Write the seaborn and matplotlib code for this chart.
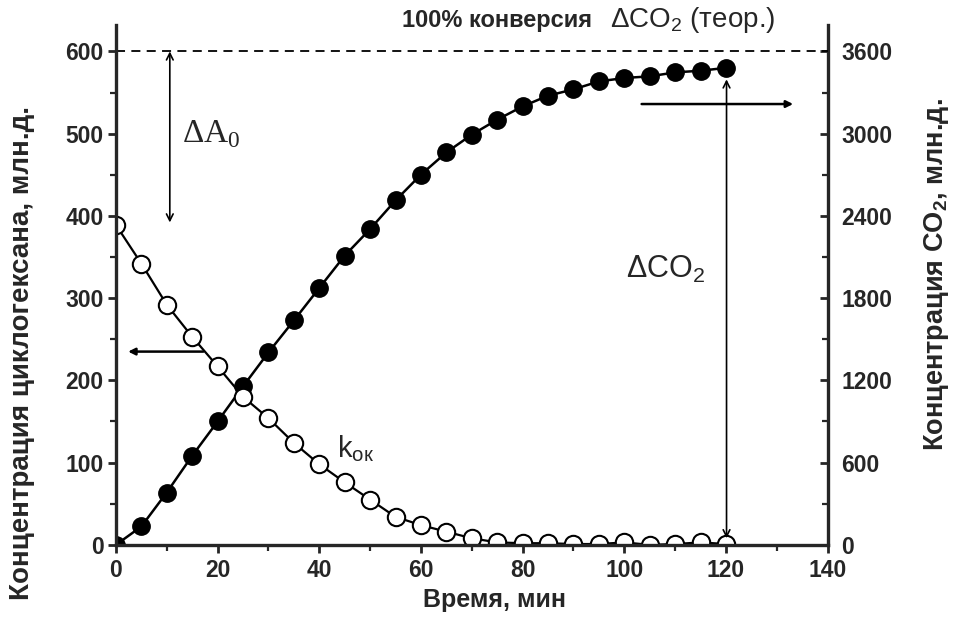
import matplotlib
matplotlib.use("Agg")
import pandas as pd
import matplotlib.pyplot as plt
import seaborn as sns
from matplotlib.ticker import MultipleLocator

# Time points, min
time_min = [0, 5, 10, 15, 20, 25, 30, 35, 40, 45, 50, 55, 60,
            65, 70, 75, 80, 85, 90, 95, 100, 105, 110, 115, 120]

# Cyclohexane concentration, ppm (left axis, open circles)
cyclohexane = [389, 342, 292, 253, 217, 180, 154, 124, 98, 76, 55, 34, 24,
               16, 8, 3, 2, 2, 1, 1, 3, 0, 1, 3, 1]

# CO2 concentration, ppm (right axis, filled circles)
co2 = [0, 134, 382, 650, 900, 1156, 1404, 1637, 1874, 2110, 2304, 2513, 2701,
       2863, 2993, 3102, 3199, 3277, 3323, 3381, 3406, 3418, 3447, 3459, 3480]

x_ticks = [0, 20, 40, 60, 80, 100, 120, 140]
left_ticks = [0, 100, 200, 300, 400, 500, 600]
right_ticks = [0, 600, 1200, 1800, 2400, 3000, 3600]

df = pd.DataFrame({"t": time_min, "c6h12": cyclohexane, "co2": co2})

sns.set_style("ticks")
plt.rcParams["font.family"] = ["Liberation Sans", "DejaVu Sans"]

fig = plt.figure(figsize=(9.58, 6.27), dpi=100)
ax = fig.add_axes([0.121, 0.131, 0.743, 0.829])
ax2 = ax.twinx()

# CO2 curve (right axis)
sns.lineplot(data=df, x="t", y="co2", ax=ax2, color="black", lw=1.8,
             marker="o", markersize=12.5, markerfacecolor="black",
             markeredgecolor="black", markeredgewidth=1.0)

# cyclohexane curve (left axis), drawn above
sns.lineplot(data=df, x="t", y="c6h12", ax=ax, color="black", lw=1.6,
             marker="o", markersize=12.5, markerfacecolor="white",
             markeredgecolor="black", markeredgewidth=1.5)
ax.set_zorder(ax2.get_zorder() + 1)
ax.patch.set_visible(False)

ax.set_xlim(0, 140)
ax.set_ylim(0, 632)
ax2.set_ylim(0, 632 * 6)
ax.set_xticks(x_ticks)
ax.set_yticks(left_ticks)
ax2.set_yticks(right_ticks)
ax.xaxis.set_minor_locator(MultipleLocator(10))
ax.yaxis.set_minor_locator(MultipleLocator(50))
ax2.yaxis.set_minor_locator(MultipleLocator(300))

for s in ["top", "right"]:
    ax.spines[s].set_visible(False)
for s in ["top", "left", "bottom"]:
    ax2.spines[s].set_visible(False)
ax.spines["left"].set_linewidth(2.4)
ax.spines["bottom"].set_linewidth(2.4)
ax2.spines["right"].set_linewidth(2.4)

ax.tick_params(axis="x", which="major", direction="out", length=6, width=2, pad=4)
ax.tick_params(axis="x", which="minor", direction="out", length=4, width=1.6)
ax.tick_params(axis="y", which="major", direction="out", length=6, width=2, pad=3)
ax.tick_params(axis="y", which="minor", direction="out", length=4, width=1.6)
ax2.tick_params(axis="y", which="major", direction="in", length=6, width=2, pad=10)
ax2.tick_params(axis="y", which="minor", direction="in", length=4, width=1.6)
for lbl in ax.get_xticklabels() + ax.get_yticklabels() + ax2.get_yticklabels():
    lbl.set_fontsize(16.5)
    lbl.set_fontweight("bold")

ax.set_xlabel("Время, мин", fontsize=18, fontweight="bold")
ax.xaxis.set_label_coords(0.532, -0.083)
ax.set_ylabel("Концентрация циклогексана, млн.д.", fontsize=20,
              fontweight="bold")
ax.yaxis.set_label_coords(-0.114, 0.37)
ax2.set_ylabel("Концентрация CO$_\\mathregular{2}$, млн.д.", fontsize=19.5,
               fontweight="bold")
ax2.yaxis.set_label_coords(1.132, 0.52)

# 100 % conversion line
ax.axhline(600, color="black", lw=1.3, ls=(0, (5, 3.5)))
fig.text(0.618, 0.957, "100% конверсия", fontsize=17, fontweight="bold",
         ha="right", va="baseline")
fig.text(0.637, 0.957, "ΔCO$_\\mathregular{2}$ (теор.)", fontsize=20,
         ha="left", va="baseline")

# arrows and labels
ax.annotate("", xy=(10.6, 600), xytext=(10.6, 392),
            arrowprops=dict(arrowstyle="<->", lw=1.2, color="black",
                            shrinkA=0, shrinkB=0, mutation_scale=12))
ax.text(13.0, 490, "ΔA$_\\mathregular{0}$", fontsize=24,
        family=["Liberation Serif", "DejaVu Serif"], va="baseline")
ax.annotate("", xy=(2.4, 235), xytext=(17.2, 235),
            arrowprops=dict(arrowstyle="-|>", lw=1.8, color="black",
                            shrinkA=0, shrinkB=0, mutation_scale=10))
ax.annotate("", xy=(133.2, 536), xytext=(103.4, 536),
            arrowprops=dict(arrowstyle="-|>", lw=1.8, color="black",
                            shrinkA=0, shrinkB=0, mutation_scale=10))
ax.annotate("", xy=(120.1, 566), xytext=(120.1, 8),
            arrowprops=dict(arrowstyle="<->", lw=1.2, color="black",
                            shrinkA=0, shrinkB=0, mutation_scale=12))
ax.text(100.4, 325, "ΔCO$_\\mathregular{2}$", fontsize=22, va="baseline")
ax.text(43.4, 106, "k$_\\mathregular{ок}$", fontsize=21, va="baseline")

fig.savefig("out.png", dpi=100, facecolor="white")
